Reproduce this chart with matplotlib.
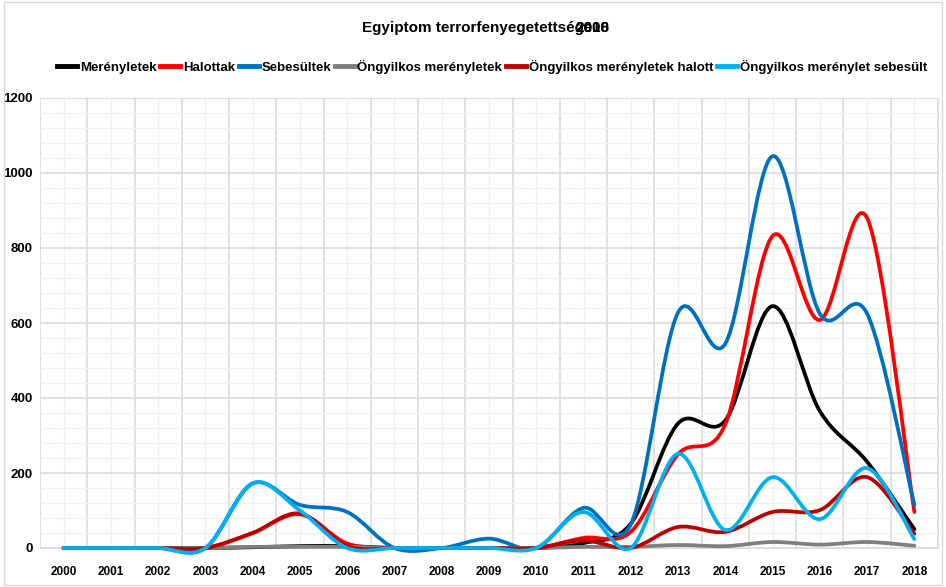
import matplotlib
matplotlib.use("Agg")
import matplotlib.pyplot as plt
import numpy as np
from matplotlib.path import Path
from matplotlib.patches import PathPatch, Rectangle
from matplotlib.lines import Line2D

years = list(range(2000, 2019))
merenyletek = [0, 0, 0, 0, 2, 5, 5, 0, 0, 0, 0, 13, 65, 332, 340, 645, 365, 230, 50]
halottak = [0, 0, 0, 0, 40, 90, 12, 0, 0, 0, 0, 27, 43, 250, 330, 832, 608, 880, 96]
sebesultek = [0, 0, 0, 0, 172, 115, 96, 0, 0, 25, 0, 107, 63, 628, 545, 1045, 625, 625, 115]
ongy_merenyletek = [0, 0, 0, 0, 3, 3, 3, 0, 0, 0, 0, 3, 3, 8, 5, 16, 9, 16, 6]
ongy_halott = [0, 0, 0, 0, 40, 92, 5, 0, 0, 0, 0, 20, 0, 56, 43, 96, 101, 189, 38]
ongy_sebesult = [0, 0, 0, 0, 173, 100, 0, 0, 0, 0, 0, 96, 0, 251, 48, 189, 77, 213, 24]

labels = ["Merényletek", "Halottak", "Sebesültek", "Öngyilkos merényletek",
          "Öngyilkos merényletek halott", "Öngyilkos merénylet sebesült"]
colors = ["#000000", "#FF0000", "#0070C0", "#7F7F7F", "#C00000", "#00B0F0"]

plt.rcParams['font.family'] = ['Liberation Sans', 'DejaVu Sans']


def smooth_path(x, y):
    # excel-like smoothed line: cubic bezier through the points
    pts = np.column_stack([x, y]).astype(float)
    n = len(pts)
    verts = [pts[0]]
    codes = [Path.MOVETO]
    for i in range(n - 1):
        p0 = pts[i - 1] if i > 0 else pts[i]
        p1 = pts[i]
        p2 = pts[i + 1]
        p3 = pts[i + 2] if i + 2 < n else pts[i + 1]
        verts += [p1 + (p2 - p0) / 6, p2 - (p3 - p1) / 6, p2]
        codes += [Path.CURVE4] * 3
    return Path(verts, codes)


fig = plt.figure(figsize=(9.46, 5.87), dpi=100)
fig.patches.append(Rectangle((0.004, 0.004), 0.992, 0.992, transform=fig.transFigure,
                             fill=False, edgecolor="#d9d9d9", lw=1))
ax = fig.add_axes([40 / 946, 39 / 587, 898 / 946, 450 / 587])

series = [merenyletek, halottak, sebesultek, ongy_merenyletek, ongy_halott, ongy_sebesult]
handles = []
for vals, c, lab in zip(series, colors, labels):
    p = PathPatch(smooth_path(years, vals), fill=False, edgecolor=c, lw=2.7,
                  capstyle='round', joinstyle='round', clip_on=False, zorder=3)
    ax.add_patch(p)
    handles.append(Line2D([], [], color=c, lw=3.5, label=lab))

ax.set_xlim(1999.5, 2018.5)
ax.set_ylim(0, 1200)
ax.set_xticks(years)
ax.set_yticks(range(0, 1201, 200))
ax.set_yticks(range(0, 1201, 40), minor=True)
ax.grid(True, which='minor', axis='y', color='#f0f0f0', lw=1, zorder=0)
ax.grid(True, which='major', axis='y', color='#dcdcdc', lw=1.2, zorder=1)
ax.grid(True, which='major', axis='x', color='#f0f0f0', lw=1, zorder=0)
# category boundaries are the darker vertical lines
for xb in np.arange(1999.5, 2019, 1):
    ax.axvline(xb, color='#dcdcdc', lw=1.2, zorder=1)
ax.tick_params(which='both', length=0)
ax.tick_params(axis='x', pad=13, labelsize=8.5)
ax.tick_params(axis='y', pad=5, labelsize=9.5)
for lbl in ax.get_xticklabels() + ax.get_yticklabels():
    lbl.set_fontweight('bold')
for s in ax.spines.values():
    s.set_color('#dcdcdc')
ax.spines['left'].set_visible(False)

fig.text(362 / 946, 1 - 28 / 587, "Egyiptom terrorfenyegetettsége", fontsize=11,
         fontweight='bold', ha='left', va='center')
fig.text(575 / 946, 1 - 28 / 587, "2000", fontsize=11, fontweight='bold',
         ha='left', va='center')
fig.text(575 / 946, 1 - 28 / 587, "2018", fontsize=11, fontweight='bold',
         ha='left', va='center')

leg = fig.legend(handles=handles, loc='center', bbox_to_anchor=(492 / 946, 1 - 67 / 587),
                 ncol=6, frameon=False, handlelength=1.5, handletextpad=0.2,
                 columnspacing=0.3, prop={'size': 9.5, 'weight': 'bold'})

fig.savefig("out.png", dpi=100)
